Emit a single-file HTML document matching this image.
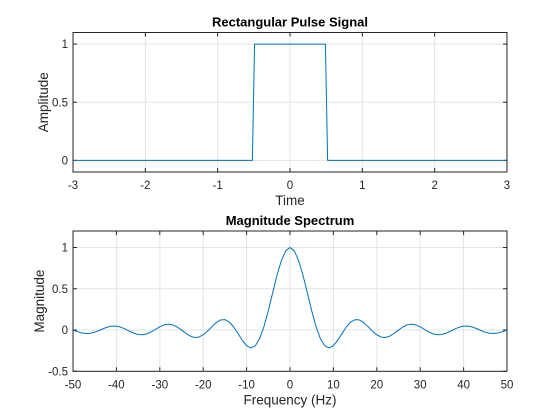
<!DOCTYPE html>
<html><head><meta charset="utf-8"><style>
body{margin:0;background:#fff;}
svg{display:block;font-family:"Liberation Sans",sans-serif;}
</style></head><body>
<svg id="chart" width="560" height="420" xmlns="http://www.w3.org/2000/svg"></svg>
<script>
const pulseTimes=[-3,-0.52,-0.49,0.49,0.52,3];
const pulseValues=[0,0,1,1,0,0];
const topXTicks=[-3,-2,-1,0,1,2,3];
const topYTicks=[0,0.5,1];
const topYTickLabels=["0","0.5","1"];
const specFreqPos=[0,1,2,3,4,5,6,7,8,9,10,11,12,13,14,15,16,17,18,19,20,21,22,23,24,25,26,27,28,29,30,31,32,33,34,35,36,37,38,39,40,41,42,43,44,45,46,47,48,49,50];
const specMagPos=[1,0.9585,0.8399,0.6618,0.45,0.2339,0.0415,-0.1046,-0.1916,-0.2171,-0.1892,-0.1238,-0.0412,0.0381,0.0973,0.1261,0.1221,0.0902,0.0407,-0.0131,-0.0585,-0.0857,-0.0903,-0.073,-0.0399,0,0.0369,0.0622,0.0709,0.0621,0.039,0.008,-0.0229,-0.0464,-0.0575,-0.0541,-0.0378,-0.0134,0.013,0.0349,0.0473,0.0477,0.0365,0.017,-0.0057,-0.026,-0.0391,-0.0422,-0.035,-0.0196,0];
const botXTicks=[-50,-40,-30,-20,-10,0,10,20,30,40,50];
const botYTicks=[-0.5,0,0.5,1];
const botYTickLabels=["-0.5","0","0.5","1"];

const NS="http://www.w3.org/2000/svg";
const svg=document.getElementById('chart');
function el(tag,attrs,parent,text){const e=document.createElementNS(NS,tag);for(const k in attrs)e.setAttribute(k,attrs[k]);if(text!==undefined)e.textContent=text;(parent||svg).appendChild(e);return e;}

function drawAxes(cfg){
  const g=el('g',{});
  
  
  const {L,R,T,B,xmin,xmax,ymin,ymax}=cfg;
  const sx=v=>L+(v-xmin)/(xmax-xmin)*(R-L);
  const sy=v=>B-(v-ymin)/(ymax-ymin)*(B-T);
  cfg.xTicks.forEach(t=>{const x=sx(t);
    const gl=el('line',{x1:x,x2:x,y1:T,y2:B,stroke:'#e3e3e3','stroke-width':1},g);
    
    el('line',{x1:x,x2:x,y1:B,y2:B-4,stroke:'#262626'},g);
    el('line',{x1:x,x2:x,y1:T,y2:T+4,stroke:'#262626'},g);
    const tl=el('text',{x:x,y:B+17,'font-size':11.5,fill:'#262626','text-anchor':'middle'},g,String(t));
    
  });
  cfg.yTicks.forEach((t,i)=>{const y=sy(t);
    const gl=el('line',{x1:L,x2:R,y1:y,y2:y,stroke:'#e3e3e3','stroke-width':1},g);
    
    el('line',{x1:L,x2:L+4,y1:y,y2:y,stroke:'#262626'},g);
    el('line',{x1:R,x2:R-4,y1:y,y2:y,stroke:'#262626'},g);
    const tl=el('text',{x:L-5,y:y+4,'font-size':11.5,fill:'#262626','text-anchor':'end'},g,cfg.yLabels[i]);
    
  });
  let d='';cfg.xs.forEach((v,i)=>{d+=(i?'L':'M')+sx(v).toFixed(2)+' '+sy(cfg.ys[i]).toFixed(2);});
  const p=el('path',{d:d,fill:'none',stroke:'#0072BD','stroke-width':1,'stroke-linejoin':'round'},g);
  
  const box=el('rect',{x:L,y:T,width:R-L,height:B-T,fill:'none',stroke:'#262626','stroke-width':1},g);
  
  const ti=el('text',{x:(L+R)/2,y:T-6,'font-size':13,'font-weight':'bold',fill:'#000','text-anchor':'middle'},g,cfg.title);
  
  const xl=el('text',{x:(L+R)/2,y:B+33,'font-size':13.5,fill:'#262626','text-anchor':'middle'},g,cfg.xLabel);
  
  const yx=cfg.yLabelX, yy=(T+B)/2;
  const yl=el('text',{x:yx,y:yy,'font-size':13.5,fill:'#262626','text-anchor':'middle',transform:`rotate(-90 ${yx} ${yy})`},g,cfg.yLabel);
  
}
drawAxes({name:'pulse-axes',seriesName:'pulse-line',L:73,R:507,T:32.5,B:172,xmin:-3,xmax:3,ymin:-0.1,ymax:1.1,
  xTicks:topXTicks,yTicks:topYTicks,yLabels:topYTickLabels,xs:pulseTimes,ys:pulseValues,
  title:'Rectangular Pulse Signal',xLabel:'Time',yLabel:'Amplitude',yLabelX:48});
const specFreq=specFreqPos.slice(1).reverse().map(v=>-v).concat(specFreqPos);
const specMag=specMagPos.slice(1).reverse().concat(specMagPos);
drawAxes({name:'spectrum-axes',seriesName:'spectrum-line',L:73,R:507,T:231,B:371.3,xmin:-50,xmax:50,ymin:-0.5,ymax:1.2,
  xTicks:botXTicks,yTicks:botYTicks,yLabels:botYTickLabels,xs:specFreq,ys:specMag,
  title:'Magnitude Spectrum',xLabel:'Frequency (Hz)',yLabel:'Magnitude',yLabelX:44});
</script>
</body></html>
